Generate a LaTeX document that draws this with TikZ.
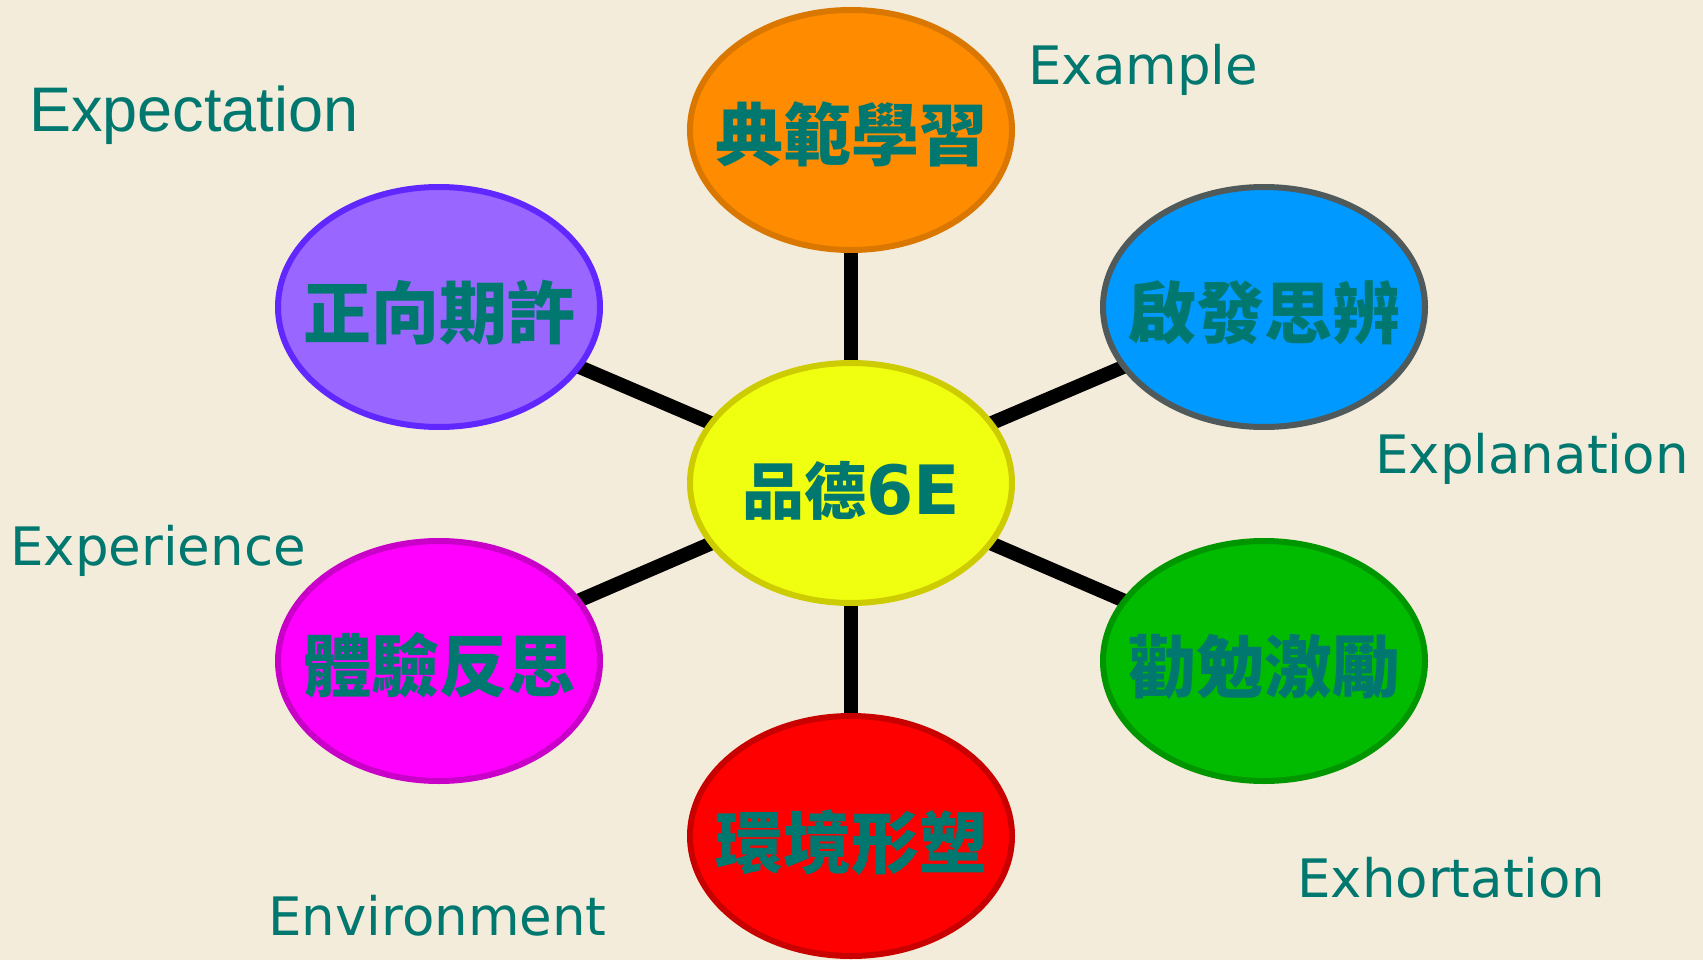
\documentclass[tikz,border=0pt]{standalone}
\usepackage{fontspec}
\usetikzlibrary{shapes.geometric}
\newfontfamily\cjk{Noto Sans CJK TC}
\newfontfamily\dvs{DejaVu Sans}
\newfontfamily\lsans{Liberation Sans}
\definecolor{bgbeige}{RGB}{244,236,218}
\definecolor{tealtxt}{RGB}{0,120,112}
\definecolor{orfill}{RGB}{255,140,0}
\definecolor{ordraw}{RGB}{217,119,0}
\definecolor{yefill}{RGB}{240,255,16}
\definecolor{yedraw}{RGB}{204,204,0}
\definecolor{pufill}{RGB}{153,102,255}
\definecolor{pudraw}{RGB}{96,40,255}
\definecolor{blfill}{RGB}{0,153,255}
\definecolor{bldraw}{RGB}{80,90,90}
\definecolor{mafill}{RGB}{255,0,255}
\definecolor{madraw}{RGB}{200,0,200}
\definecolor{grfill}{RGB}{0,187,0}
\definecolor{grdraw}{RGB}{0,150,0}
\definecolor{refill}{RGB}{255,0,0}
\definecolor{redraw}{RGB}{200,0,0}
\newcommand\bubtext[2][-6pt]{\makebox[0pt]{\raisebox{#1}[0pt][0pt]{#2}}}
\pgfdeclarelayer{bg}
\pgfdeclarelayer{links}
\pgfsetlayers{bg,links,main}
\begin{document}
\begin{tikzpicture}[x=1pt,y=-1pt,
  bubble/.style={ellipse, minimum width=322pt, minimum height=240pt, inner sep=0pt,
    line width=6pt, text=tealtxt, font=\cjk\bfseries\fontsize{68}{80}\selectfont},
  link/.style={line width=14pt, black},
  eng/.style={anchor=base west, inner sep=0pt, text=tealtxt, font=\dvs\fontsize{53}{60}\selectfont}]
\begin{pgfonlayer}{bg}
  \fill[bgbeige] (0,0) rectangle (1703,960);
\end{pgfonlayer}
\useasboundingbox (0,0) rectangle (1703,960);

\node[bubble, fill=yefill, draw=yedraw] (c) at (851,483)
  {\bubtext[-31pt]{\fontsize{62}{70}\selectfont 品德{\dvs\bfseries\fontsize{68}{70}\selectfont 6E}}};
\node[bubble, fill=orfill, draw=ordraw] (t) at (851,130) {\bubtext[-31pt]{典範學習}};
\node[bubble, fill=pufill, draw=pudraw] (ul) at (439,307) {\bubtext[-31pt]{正向期許}};
\node[bubble, fill=blfill, draw=bldraw] (ur) at (1264,307) {\bubtext[-31pt]{啟發思辨}};
\node[bubble, fill=mafill, draw=madraw] (ll) at (439,661) {\bubtext[-30pt]{體驗反思}};
\node[bubble, fill=grfill, draw=grdraw] (lr) at (1264,661) {\bubtext[-31pt]{勸勉激勵}};
\node[bubble, fill=refill, draw=redraw] (b) at (851,836) {\bubtext[-32pt]{環境形塑}};

\begin{pgfonlayer}{links}
  \draw[link] (c.center) -- (t.center);
  \draw[link] (c.center) -- (ul.center);
  \draw[link] (c.center) -- (ur.center);
  \draw[link] (c.center) -- (ll.center);
  \draw[link] (c.center) -- (lr.center);
  \draw[link] (c.center) -- (b.center);
\end{pgfonlayer}

\node[anchor=base west, inner sep=0pt, text=tealtxt, font=\lsans\fontsize{63}{70}\selectfont] (lexp) at (29,132) {Expectation};
\node[eng] (lexa) at (1028,85) {Example};
\node[eng] (lexl) at (1375,473) {Explanation};
\node[eng] (lexe) at (10,565) {Experience};
\node[eng] (lenv) at (268,935) {Environment};
\node[eng] (lexh) at (1297,897) {Exhortation};
\end{tikzpicture}
\end{document}
